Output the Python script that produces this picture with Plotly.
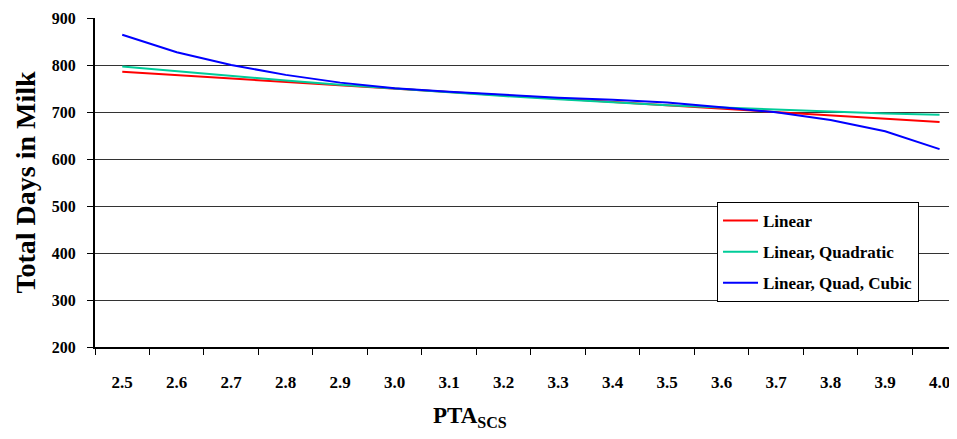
import plotly.graph_objects as go

pta_scs = ["2.5", "2.6", "2.7", "2.8", "2.9", "3.0", "3.1", "3.2",
           "3.3", "3.4", "3.5", "3.6", "3.7", "3.8", "3.9", "4.0"]
linear = [785.6, 778.5, 771.3, 764.2, 757.0, 749.9, 742.7, 735.6,
          728.5, 721.3, 714.2, 707.0, 699.9, 692.8, 685.6, 678.5]
linear_quad = [797.0, 786.5, 776.5, 767.0, 758.0, 749.5, 741.5, 734.0,
               727.0, 720.5, 714.5, 709.5, 705.0, 700.5, 697.0, 694.0]
linear_quad_cubic = [864.5, 827.0, 800.0, 779.0, 762.5, 750.5, 743.0, 736.5,
                     730.5, 725.8, 720.0, 710.0, 699.4, 683.0, 659.0, 621.0]

series_names = ["Linear", "Linear, Quadratic", "Linear, Quad, Cubic"]
series_values = [linear, linear_quad, linear_quad_cubic]
series_colors = ["#FF0000", "#00CC99", "#0000FF"]

y_ticks = [200, 300, 400, 500, 600, 700, 800, 900]

serif = "Liberation Serif, Times New Roman, serif"

fig = go.Figure()
for i, (name, vals, col) in enumerate(zip(series_names, series_values, series_colors)):
    fig.add_trace(go.Scatter(x=pta_scs, y=vals, mode="lines", name=name,
                             legendgroup="g%d" % i,
                             line=dict(color=col, width=2)))

# the page body has an 8px margin, so the figure is 8px smaller and shifted
fig.update_layout(
    width=949, height=431,
    margin=dict(l=87, r=0, t=10, b=92),
    paper_bgcolor="white", plot_bgcolor="white",
    font=dict(family=serif, color="black", size=15, weight="bold"),
    showlegend=True,
    legend=dict(
        x=0.7216, y=0.4407, xanchor="left", yanchor="top",
        bgcolor="white", bordercolor="black", borderwidth=1,
        font=dict(family=serif, size=17, color="black", weight="bold"),
        tracegroupgap=6, itemwidth=35, traceorder="grouped",
    ),
    xaxis=dict(
        type="category",
        range=[-0.5, 15.32],
        tickson="boundaries",
        ticks="outside", ticklen=6, tickcolor="black", tickwidth=1,
        showline=True, linecolor="black", linewidth=2,
        showgrid=False, zeroline=False,
        tickfont=dict(family=serif, size=17, color="black", weight="bold"),
        ticklabelstandoff=19,
    ),
    yaxis=dict(
        range=[200, 900],
        tickvals=y_ticks,
        ticks="outside", ticklen=6, tickcolor="black", tickwidth=1,
        showline=True, linecolor="black", linewidth=2,
        showgrid=True, gridcolor="#333333", gridwidth=1,
        zeroline=False,
        ticklabelstandoff=8,
        tickfont=dict(family=serif, size=16, color="black", weight="bold"),
        title=dict(text="Total Days in Milk",
                   font=dict(family=serif, size=28, color="black", weight="bold"),
                   standoff=8),
    ),
)

fig.add_annotation(
    text="PTA<sub>SCS</sub>", xref="paper", yref="paper",
    x=0.435, y=-0.165, xanchor="center", yanchor="top", showarrow=False,
    font=dict(family=serif, size=23, color="black", weight="bold"),
)

fig.write_html("out.html")
